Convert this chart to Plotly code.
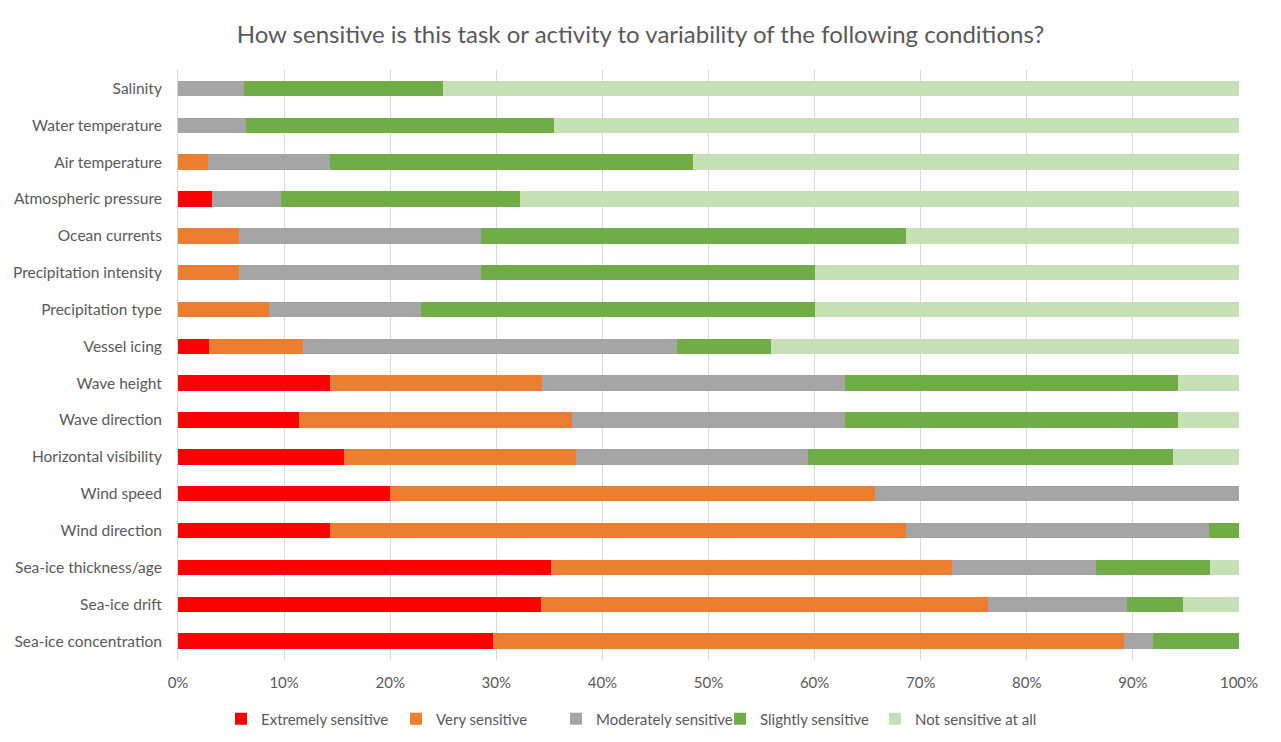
import plotly.graph_objects as go

conditions = [
    "Salinity", "Water temperature", "Air temperature", "Atmospheric pressure",
    "Ocean currents", "Precipitation intensity", "Precipitation type", "Vessel icing",
    "Wave height", "Wave direction", "Horizontal visibility", "Wind speed",
    "Wind direction", "Sea-ice thickness/age", "Sea-ice drift", "Sea-ice concentration",
]

extremely = [0, 0, 0, 3.23, 0, 0, 0, 2.94, 14.29, 11.43, 15.63, 20.00, 14.29, 35.14, 34.21, 29.73]
very = [0, 0, 2.86, 0, 5.71, 5.71, 8.57, 8.82, 20.00, 25.71, 21.88, 45.71, 54.29, 37.84, 42.11, 59.46]
moderately = [6.25, 6.45, 11.43, 6.45, 22.86, 22.86, 14.29, 35.29, 28.57, 25.71, 21.88, 34.29, 28.57, 13.51, 13.16, 2.70]
slightly = [18.75, 29.03, 34.29, 22.58, 40.00, 31.43, 37.14, 8.82, 31.43, 31.43, 34.38, 0, 2.86, 10.81, 5.26, 8.11]
not_at_all = [75.00, 64.52, 51.43, 67.74, 31.43, 40.00, 40.00, 44.12, 5.71, 5.71, 6.25, 0, 0, 2.70, 5.26, 0]

series_names = ["Extremely sensitive", "Very sensitive", "Moderately sensitive",
                "Slightly sensitive", "Not sensitive at all"]
series_values = [extremely, very, moderately, slightly, not_at_all]
series_colors = ["#FF0000", "#ED7D31", "#A5A5A5", "#70AD47", "#C5E0B4"]

font_family = "Lato, 'Open Sans', sans-serif"
text_color = "#595959"

# each legend entry gets its own legend box so the bottom row can be spaced freely
fig_w, fig_h = 1281, 742
legend_text_x = [259, 434, 594, 758, 913]
legend_ids = ["legend2", "legend3", "legend4", "legend5", "legend6"]

fig = go.Figure()
for name, values, color, lid in zip(series_names, series_values, series_colors, legend_ids):
    fig.add_trace(go.Bar(
        y=conditions, x=values, name=name, orientation="h",
        marker=dict(color=color, line=dict(width=0)),
        legend=lid,
    ))

legend_layout = {}
for lid, tx in zip(legend_ids, legend_text_x):
    legend_layout[lid] = dict(
        xref="container", yref="container",
        x=(tx - 38) / fig_w, xanchor="left",
        y=1 - 719 / fig_h, yanchor="middle",
        orientation="h", bgcolor="rgba(0,0,0,0)",
        font=dict(size=15, color=text_color, family=font_family),
        itemwidth=30,
    )

fig.update_layout(
    width=fig_w, height=fig_h,
    barmode="stack", bargap=0.58,
    paper_bgcolor="white", plot_bgcolor="white",
    margin=dict(l=178, r=42, t=70, b=70),
    font=dict(family=font_family, size=15.5, color=text_color),
    title=dict(
        text="How sensitive is this task or activity to variability of the following conditions?",
        x=0.5, xanchor="center", y=0.953, yanchor="middle",
        font=dict(size=24, color=text_color, family=font_family),
    ),
    xaxis=dict(
        range=[0, 100], dtick=10, ticksuffix="%",
        showgrid=True, gridcolor="#D9D9D9", gridwidth=1,
        zeroline=False, showline=False,
        ticks="outside", ticklen=9, tickcolor="rgba(0,0,0,0)",
        tickfont=dict(size=15, color=text_color),
        fixedrange=True,
    ),
    yaxis=dict(
        autorange="reversed", showgrid=False,
        ticks="outside", ticklen=12, tickcolor="rgba(0,0,0,0)",
        showline=True, linecolor="#D9D9D9", linewidth=1,
        tickfont=dict(size=15.5, color=text_color),
    ),
    **legend_layout,
)

fig.write_html("out.html")
